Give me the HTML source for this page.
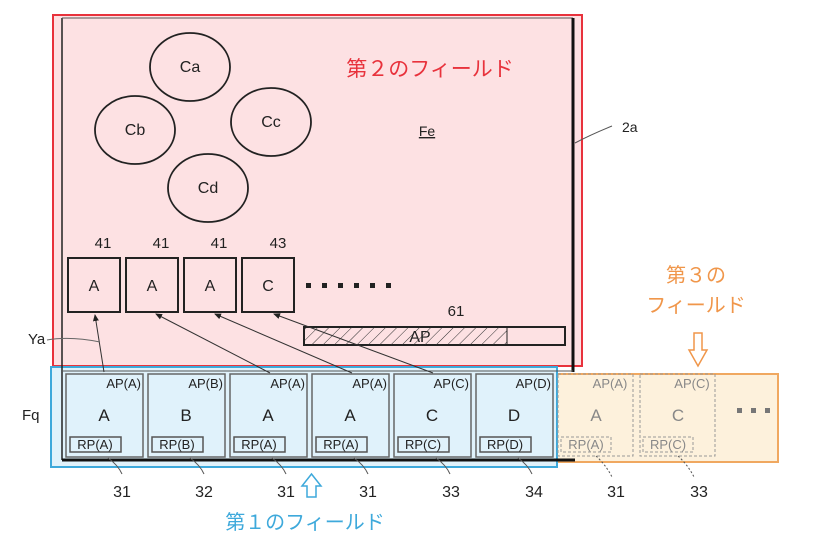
<!DOCTYPE html>
<html><head><meta charset="utf-8"><style>body{margin:0;background:#fff}svg{display:block}text{font-family:"Liberation Sans","Noto Sans CJK JP",sans-serif}</style></head><body>
<svg width="836" height="551" viewBox="0 0 836 551" xmlns="http://www.w3.org/2000/svg">
<defs>
<pattern id="h" width="8" height="8" patternUnits="userSpaceOnUse" patternTransform="rotate(45)"><line x1="0" y1="0" x2="0" y2="8" stroke="#333" stroke-width="1"/></pattern>
<marker id="ar" markerWidth="8" markerHeight="8" refX="6" refY="3" orient="auto"><path d="M0,0 L7,3 L0,6 z" fill="#222"/></marker>
</defs>
<rect x="53" y="15" width="529" height="351" fill="#fde1e3" stroke="#e8323c" stroke-width="2"/>
<rect x="545" y="374" width="233" height="88" fill="#fdf1dc" stroke="#f0a860" stroke-width="2"/>
<rect x="51" y="367" width="506" height="100" fill="#e0f2fb" stroke="#3ea9db" stroke-width="2"/>
<line x1="62" y1="18" x2="62" y2="460" stroke="#222" stroke-width="1.5"/>
<line x1="62" y1="18" x2="573" y2="18" stroke="#555" stroke-width="1"/>
<line x1="573" y1="18" x2="573" y2="372" stroke="#111" stroke-width="3"/>
<line x1="62" y1="460" x2="575" y2="460" stroke="#111" stroke-width="3"/>
<line x1="62" y1="371" x2="573" y2="371" stroke="#555" stroke-width="1"/>
<g fill="none" stroke="#222" stroke-width="1.8">
<ellipse cx="190" cy="67" rx="40" ry="34"/><ellipse cx="135" cy="130" rx="40" ry="34"/>
<ellipse cx="271" cy="122" rx="40" ry="34"/><ellipse cx="208" cy="188" rx="40" ry="34"/>
</g>
<g font-size="16" text-anchor="middle" fill="#222">
<text x="190" y="72">Ca</text><text x="135" y="135">Cb</text><text x="271" y="127">Cc</text><text x="208" y="193">Cd</text>
<text x="427" y="136" text-decoration="underline" font-size="14">Fe</text>
</g>
<text x="430" y="76" font-size="21" fill="#e8323c" text-anchor="middle">第２のフィールド</text>
<text x="622" y="132" font-size="14" fill="#222">2a</text>
<path d="M575,143 Q590,135 612,126" stroke="#555" fill="none"/>
<g fill="#fde1e3" stroke="#222" stroke-width="2">
<rect x="68" y="258" width="52" height="54"/><rect x="126" y="258" width="52" height="54"/><rect x="184" y="258" width="52" height="54"/><rect x="242" y="258" width="52" height="54"/>
</g>
<g font-size="16" text-anchor="middle" fill="#222">
<text x="94" y="291">A</text><text x="152" y="291">A</text><text x="210" y="291">A</text><text x="268" y="291">C</text>
<text x="103" y="248" font-size="15">41</text><text x="161" y="248" font-size="15">41</text><text x="219" y="248" font-size="15">41</text><text x="278" y="248" font-size="15">43</text>
<text x="456" y="316" font-size="15">61</text>
</g>
<g fill="#222">
<rect x="306" y="283" width="5" height="5"/><rect x="322" y="283" width="5" height="5"/><rect x="338" y="283" width="5" height="5"/><rect x="354" y="283" width="5" height="5"/><rect x="370" y="283" width="5" height="5"/><rect x="386" y="283" width="5" height="5"/>
</g>
<rect x="304" y="327" width="261" height="18" fill="#fde1e3" stroke="#222" stroke-width="2"/>
<rect x="304" y="327" width="203" height="18" fill="url(#h)" stroke="#222" stroke-width="1"/>
<text x="420" y="342" font-size="16" fill="#222" text-anchor="middle">AP</text>
<g stroke="#333" stroke-width="1" marker-end="url(#ar)">
<line x1="104" y1="372" x2="95" y2="315"/><line x1="270" y1="373" x2="156" y2="314"/>
<line x1="352" y1="373" x2="215" y2="314"/><line x1="433" y1="373" x2="274" y2="314"/>
</g>
<text x="28" y="344" font-size="15" fill="#222">Ya</text>
<path d="M47,340 Q70,336 100,342" stroke="#666" fill="none"/>
<text x="22" y="420" font-size="15" fill="#222">Fq</text>
<g stroke="#666" stroke-width="1.5" fill="#e0f2fb">
<rect x="66" y="374" width="77" height="83"/><rect x="148" y="374" width="77" height="83"/><rect x="230" y="374" width="77" height="83"/>
<rect x="312" y="374" width="77" height="83"/><rect x="394" y="374" width="77" height="83"/><rect x="476" y="374" width="77" height="83"/>
</g>
<g font-size="13" fill="#222" text-anchor="end">
<text x="141" y="388">AP(A)</text><text x="223" y="388">AP(B)</text><text x="305" y="388">AP(A)</text><text x="387" y="388">AP(A)</text><text x="469" y="388">AP(C)</text><text x="551" y="388">AP(D)</text>
</g>
<g font-size="17" fill="#222" text-anchor="middle">
<text x="104" y="421">A</text><text x="186" y="421">B</text><text x="268" y="421">A</text><text x="350" y="421">A</text><text x="432" y="421">C</text><text x="514" y="421">D</text>
</g>
<g stroke="#555" stroke-width="1.5" fill="none">
<rect x="70" y="437" width="51" height="15"/><rect x="152" y="437" width="51" height="15"/><rect x="234" y="437" width="51" height="15"/><rect x="316" y="437" width="51" height="15"/><rect x="398" y="437" width="51" height="15"/><rect x="480" y="437" width="51" height="15"/>
</g>
<g font-size="13" fill="#222" text-anchor="middle">
<text x="95" y="449">RP(A)</text><text x="177" y="449">RP(B)</text><text x="259" y="449">RP(A)</text><text x="341" y="449">RP(A)</text><text x="423" y="449">RP(C)</text><text x="505" y="449">RP(D)</text>
</g>
<g stroke="#999" stroke-dasharray="3,2" fill="none">
<rect x="558" y="374" width="75" height="82"/><rect x="640" y="374" width="75" height="82"/>
<rect x="561" y="437" width="50" height="15"/><rect x="643" y="437" width="50" height="15"/>
</g>
<g fill="#888" text-anchor="middle">
<text x="610" y="388" font-size="13">AP(A)</text><text x="692" y="388" font-size="13">AP(C)</text>
<text x="596" y="421" font-size="17">A</text><text x="678" y="421" font-size="17">C</text>
<text x="586" y="449" font-size="13">RP(A)</text><text x="668" y="449" font-size="13">RP(C)</text>
</g>
<g fill="#777"><rect x="737" y="408" width="5" height="5"/><rect x="751" y="408" width="5" height="5"/><rect x="765" y="408" width="5" height="5"/></g>
<g stroke="#555" fill="none">
<path d="M108,458 Q118,465 122,474"/><path d="M190,458 Q200,465 204,474"/><path d="M272,458 Q282,465 286,474"/><path d="M354,458 Q364,465 368,474"/><path d="M436,458 Q446,465 450,474"/><path d="M518,458 Q528,465 532,474"/>
<path d="M596,456 Q606,465 612,477" stroke-dasharray="2,2"/><path d="M678,456 Q688,465 694,477" stroke-dasharray="2,2"/>
</g>
<g font-size="16" fill="#222" text-anchor="middle">
<text x="122" y="497">31</text><text x="204" y="497">32</text><text x="286" y="497">31</text><text x="368" y="497">31</text><text x="451" y="497">33</text><text x="534" y="497">34</text><text x="616" y="497">31</text><text x="699" y="497">33</text>
</g>
<path d="M307,497 L316,497 L316,486 L321,486 L311.5,474 L302,486 L307,486 z" fill="#fff" stroke="#3ea9db" stroke-width="1.5"/>
<text x="305" y="529" font-size="20" fill="#3ea9db" text-anchor="middle">第１のフィールド</text>
<text x="696" y="282" font-size="20" fill="#f0964a" text-anchor="middle">第３の</text>
<text x="696" y="312" font-size="20" fill="#f0964a" text-anchor="middle">フィールド</text>
<path d="M694,333 L702,333 L702,350 L707,350 L698,366 L689,350 L694,350 z" fill="#fff" stroke="#f0964a" stroke-width="1.5"/>
</svg>
</body></html>
